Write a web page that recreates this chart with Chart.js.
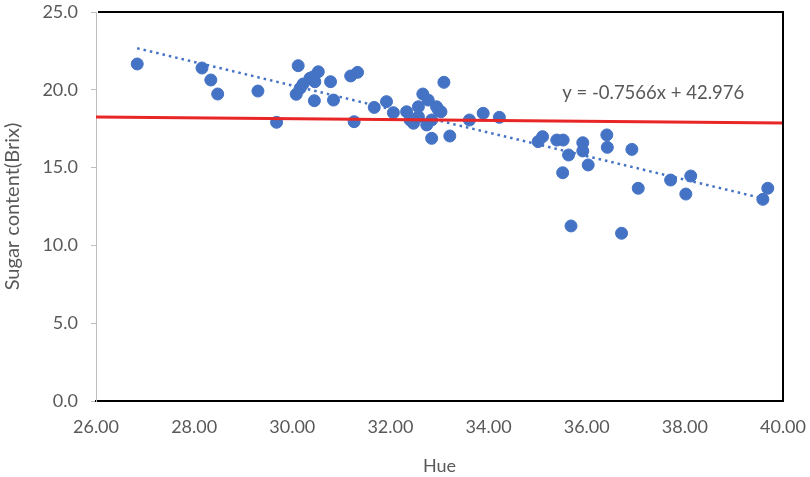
<!DOCTYPE html>
<html>
<head>
<meta charset="utf-8">
<script src="https://cdn.jsdelivr.net/npm/chart.js@4"></script>
<style>
  html, body { margin: 0; padding: 0; background: #fff; }
  #wrap { width: 810px; height: 477px; }
</style>
</head>
<body>
<div id="wrap"><canvas id="scatterChart"></canvas></div>
<script>
// hue values (x) and sugar content (y)
const hue = [
  26.84, 28.16, 28.34, 28.48, 29.30, 29.68, 30.12, 30.08, 30.45, 30.22,
  30.36, 30.53, 30.46, 30.78, 30.84, 31.19, 31.33, 31.26, 31.67, 31.92,
  32.06, 32.33, 32.47, 32.57, 32.66, 32.77, 32.74, 32.84, 32.98, 33.03,
  33.09, 33.21, 33.61, 33.89, 34.22, 35.01, 35.10, 35.39, 35.52, 35.63,
  35.51, 35.68, 35.92, 35.92, 36.03, 36.41, 36.42, 36.92, 37.05, 36.71,
  37.71, 38.12, 38.02, 39.69, 39.59, 32.57, 32.94, 32.40, 32.84, 30.16,
  30.43
];
const brix = [
  21.66, 21.40, 20.63, 19.73, 19.92, 17.91, 21.55, 19.71, 19.30, 20.37,
  20.74, 21.16, 20.52, 20.52, 19.34, 20.89, 21.12, 17.95, 18.87, 19.24,
  18.53, 18.59, 17.85, 18.27, 19.73, 19.34, 17.74, 16.88, 18.70, 18.59,
  20.48, 17.03, 18.06, 18.49, 18.23, 16.67, 16.99, 16.77, 16.77, 15.81,
  14.67, 11.25, 16.60, 16.07, 15.17, 17.10, 16.30, 16.17, 13.67, 10.78,
  14.20, 14.46, 13.30, 13.67, 12.96, 18.91, 18.91, 18.06, 18.06, 20.10,
  20.84
];

// red reference line (start / end)
const refX = [26, 40];
const refY = [18.25, 17.87];

// linear trend
const slope = -0.7566;
const intercept = 42.976;
const trendLabel = 'y = -0.7566x + 42.976';

const xTicks = [26, 28, 30, 32, 34, 36, 38, 40];
const yTicks = [0, 5, 10, 15, 20, 25];

const points = hue.map((h, i) => ({ x: h, y: brix[i] }));
const xMin = Math.min(...hue), xMax = Math.max(...hue);
const trend = [xMin, xMax].map(x => ({ x: x, y: slope * x + intercept }));
const refLine = refX.map((x, i) => ({ x: x, y: refY[i] }));

const tickColor = '#595959';
const fontFamily = 'Lato, "Open Sans", sans-serif';

const framePlugin = {
  id: 'frame',
  afterDraw(chart) {
    const { ctx, chartArea: a, scales } = chart;
    ctx.save();
    ctx.strokeStyle = '#000';
    ctx.lineWidth = 2;
    ctx.beginPath();
    ctx.moveTo(a.left + 2, a.top);
    ctx.lineTo(a.right, a.top);
    ctx.lineTo(a.right, a.bottom);
    ctx.stroke();
    // trendline equation
    ctx.fillStyle = tickColor;
    ctx.font = '18.5px ' + fontFamily;
    ctx.textBaseline = 'middle';
    ctx.fillText(trendLabel, scales.x.getPixelForValue(35.5), scales.y.getPixelForValue(19.8));
    ctx.restore();
  }
};

const ctx = document.getElementById('scatterChart').getContext('2d');
new Chart(ctx, {
  type: 'scatter',
  data: {
    datasets: [
      {
        label: 'ref',
        data: refLine,
        showLine: true,
        borderColor: 'rgb(232, 38, 38)',
        borderWidth: 3,
        pointRadius: 0
      },
      {
        label: 'trend',
        data: trend,
        showLine: true,
        borderColor: '#4472C4',
        borderWidth: 2.5,
        borderDash: [2.5, 4],
        pointRadius: 0
      },
      {
        label: 'Sugar content',
        data: points,
        backgroundColor: '#4472C4',
        borderColor: '#4472C4',
        borderWidth: 1,
        pointRadius: 6
      }
    ]
  },
  options: {
    responsive: true,
    maintainAspectRatio: false,
    animation: false,
    layout: { padding: { top: 12, right: 27, bottom: 0, left: 0 } },
    plugins: {
      legend: { display: false },
      tooltip: { enabled: false }
    },
    scales: {
      x: {
        type: 'linear',
        min: 26,
        max: 40,
        afterBuildTicks: s => { s.ticks = xTicks.map(v => ({ value: v })); },
        afterFit: s => { s.height = 76; s.paddingLeft = 0; s.paddingRight = 0; },
        grid: { display: true, drawOnChartArea: false, drawTicks: false },
        border: { color: '#000', width: 2 },
        ticks: {
          color: tickColor,
          padding: 15,
          font: { family: fontFamily, size: 18 },
          callback: v => v.toFixed(2)
        },
        title: {
          display: true,
          text: 'Hue',
          color: tickColor,
          font: { family: fontFamily, size: 18 },
          padding: { top: 0, bottom: 0 }
        }
      },
      y: {
        type: 'linear',
        min: 0,
        max: 25,
        afterBuildTicks: s => { s.ticks = yTicks.map(v => ({ value: v })); },
        afterFit: s => { s.width = 96; s.paddingTop = 0; s.paddingBottom = 0; },
        grid: { display: true, drawOnChartArea: false, tickLength: 5, color: '#BFBFBF' },
        border: { color: '#BFBFBF', width: 1 },
        ticks: {
          color: tickColor,
          padding: 13,
          font: { family: fontFamily, size: 18 },
          callback: v => v.toFixed(1)
        },
        title: {
          display: true,
          text: 'Sugar content(Brix)',
          color: tickColor,
          font: { family: fontFamily, size: 20 },
          padding: { top: 1, bottom: 0 }
        }
      }
    }
  },
  plugins: [framePlugin]
});
</script>
</body>
</html>
